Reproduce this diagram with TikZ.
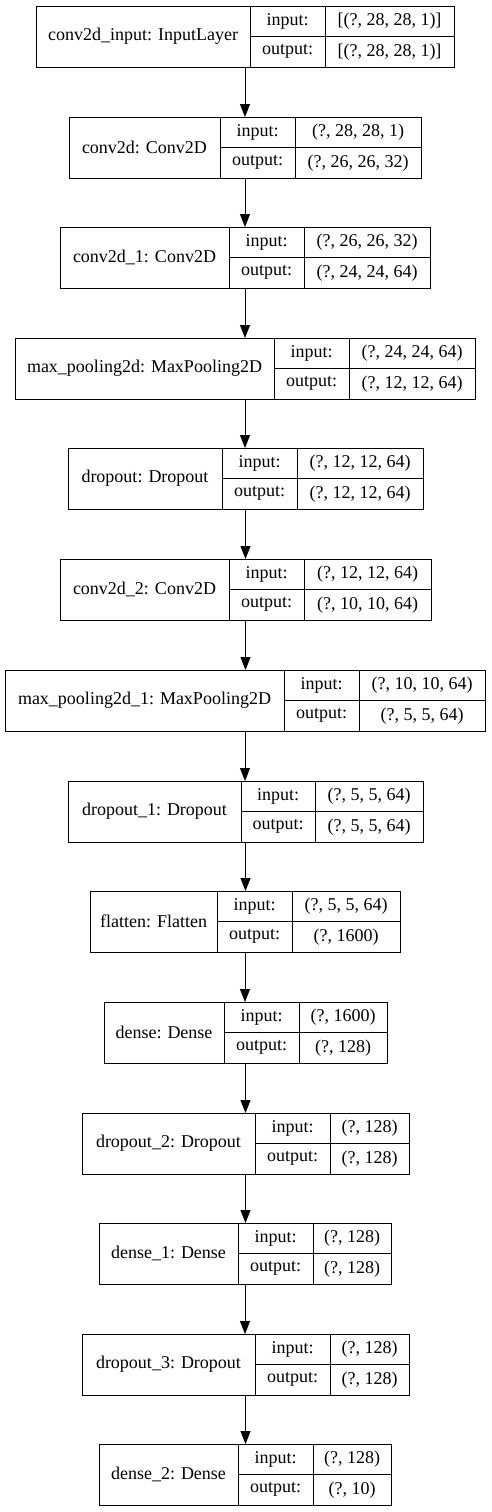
\documentclass[tikz,border=0pt]{standalone}
\usepackage{fontspec}
\setmainfont{Liberation Serif}
\usetikzlibrary{arrows.meta, positioning}

\tikzset{
    rec/.style={draw, line width=0.9pt, inner sep=0pt, outer sep=0pt, minimum height=61pt},
    cell/.style={draw, line width=0.9pt, inner sep=0pt, outer sep=0pt, font=\fontsize{18}{20}\selectfont},
    edge/.style={line width=0.9pt, -{Triangle[length=13pt, width=10pt]}}
}

% one keras layer: id, top, left, split1, split2, right, name, input, output
\newcommand{\kerlayer}[9]{%
    \node[rec, minimum width={#6-#3}, anchor=north west] (#1) at (#3,-#2) {};
    \node[cell, minimum width={#4-#3}, minimum height=61pt, anchor=north west] (#1n) at (#1.north west) {#7};
    \node[cell, minimum width={#5-#4}, minimum height=30.5pt, anchor=north west] (#1a) at (#1n.north east) {input:};
    \node[cell, minimum width={#5-#4}, minimum height=30.5pt, anchor=north west] (#1b) at (#1a.south west) {output:};
    \node[cell, minimum width={#6-#5}, minimum height=30.5pt, anchor=north west] (#1c) at (#1a.north east) {#8};
    \node[cell, minimum width={#6-#5}, minimum height=30.5pt, anchor=north west] (#1d) at (#1b.north east) {#9};
}

\begin{document}
\begin{tikzpicture}[x=1pt, y=1pt]
    \useasboundingbox (0,0) rectangle (491,-1512);

    \kerlayer{in0}{6}{36}{250}{325}{454}{conv2d\_input: InputLayer}{[(?, 28, 28, 1)]}{[(?, 28, 28, 1)]}
    \kerlayer{cv0}{117}{69}{220}{295}{421}{conv2d: Conv2D}{(?, 28, 28, 1)}{(?, 26, 26, 32)}
    \kerlayer{cv1}{227}{60}{229}{304}{430}{conv2d\_1: Conv2D}{(?, 26, 26, 32)}{(?, 24, 24, 64)}
    \kerlayer{mp0}{338}{15}{274}{349}{475}{max\_pooling2d: MaxPooling2D}{(?, 24, 24, 64)}{(?, 12, 12, 64)}
    \kerlayer{dr0}{448}{68}{222}{297}{423}{dropout: Dropout}{(?, 12, 12, 64)}{(?, 12, 12, 64)}
    \kerlayer{cv2}{559}{60}{229}{304}{431}{conv2d\_2: Conv2D}{(?, 12, 12, 64)}{(?, 10, 10, 64)}
    \kerlayer{mp1}{670}{5}{284}{359}{485}{max\_pooling2d\_1: MaxPooling2D}{(?, 10, 10, 64)}{(?, 5, 5, 64)}
    \kerlayer{dr1}{781}{68}{241}{315}{423}{dropout\_1: Dropout}{(?, 5, 5, 64)}{(?, 5, 5, 64)}
    \kerlayer{fl0}{891}{90}{217}{292}{400}{flatten: Flatten}{(?, 5, 5, 64)}{(?, 1600)}
    \kerlayer{dn0}{1002}{104}{224}{299}{387}{dense: Dense}{(?, 1600)}{(?, 128)}
    \kerlayer{dr2}{1113}{82}{255}{330}{409}{dropout\_2: Dropout}{(?, 128)}{(?, 128)}
    \kerlayer{dn1}{1223}{99}{238}{313}{391}{dense\_1: Dense}{(?, 128)}{(?, 128)}
    \kerlayer{dr3}{1334}{82}{255}{330}{409}{dropout\_3: Dropout}{(?, 128)}{(?, 128)}
    \kerlayer{dn2}{1444}{99}{238}{313}{391}{dense\_2: Dense}{(?, 128)}{(?, 10)}

    % connections
    \foreach \a/\b in {in0/cv0, cv0/cv1, cv1/mp0, mp0/dr0, dr0/cv2, cv2/mp1, mp1/dr1,
                       dr1/fl0, fl0/dn0, dn0/dr2, dr2/dn1, dn1/dr3, dr3/dn2}
        \draw[edge] (\a.south) -- (\a.south |- \b.north);
\end{tikzpicture}
\end{document}
